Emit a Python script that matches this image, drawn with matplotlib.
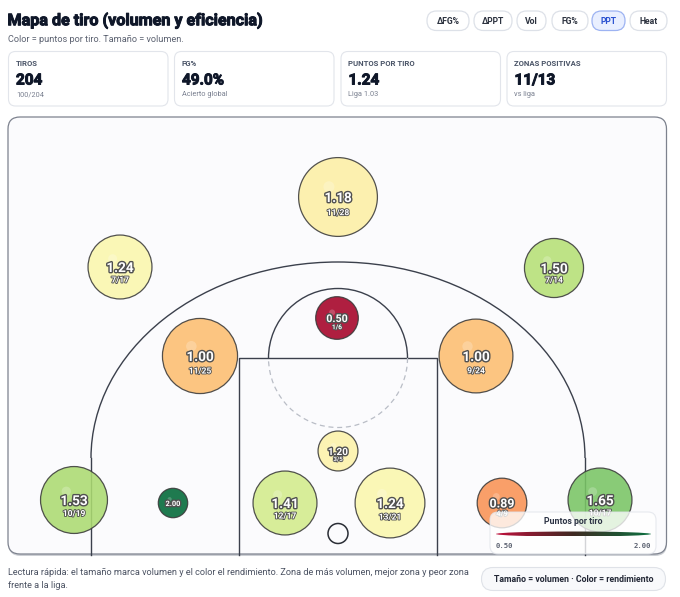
import numpy as np
import matplotlib
matplotlib.use("Agg")
import matplotlib.pyplot as plt
from matplotlib.patches import FancyBboxPatch, Circle, Arc, Ellipse
from matplotlib.colors import Normalize, LinearSegmentedColormap, ListedColormap, to_rgb
import matplotlib.patheffects as pe

plt.rcParams['font.family'] = ['Roboto', 'DejaVu Sans']

# ---- data ----
zone_x = [338, 120, 554, 337, 200, 476, 74, 173, 285, 338, 390, 502, 600]
zone_y = [197, 267, 268, 318, 356, 356, 500, 503, 503, 451, 503, 503, 500]
attempts = [28, 17, 14, 6, 25, 24, 19, 2, 17, 5, 21, 9, 17]
made = [11, 7, 7, 1, 11, 9, 10, 2, 12, 3, 13, 4, 10]
ppt = [1.18, 1.24, 1.50, 0.50, 1.00, 1.00, 1.53, 2.00, 1.41, 1.20, 1.24, 0.89, 1.65]

card_labels = ["TIROS", "FG%", "PUNTOS POR TIRO", "ZONAS POSITIVAS"]
card_values = ["204", "49.0%", "1.24", "11/13"]
card_subs = ["100/204", "Acierto global", "Liga 1.03", "vs liga"]

buttons = ["ΔFG%", "ΔPPT", "Vol", "FG%", "PPT", "Heat"]
active_button = "PPT"

ppt_min, ppt_max = 0.50, 2.00

LINE = '#3b404c'
NAVY = '#0f1729'

# RdYlGn with smooth (basis spline) interpolation between the brewer stops
brewer = ["#a50026", "#d73027", "#f46d43", "#fdae61", "#fee08b", "#ffffbf",
          "#d9ef8b", "#a6d96a", "#66bd63", "#1a9850", "#006837"]


def basis_cmap(hexes, n_out=256):
    v = np.array([to_rgb(h) for h in hexes])
    n = len(v) - 1
    out = []
    for t in np.linspace(0, 1, n_out):
        i = min(int(t * n), n - 1)
        v1, v2 = v[i], v[i + 1]
        v0 = v[i - 1] if i > 0 else 2 * v1 - v2
        v3 = v[i + 2] if i < n - 1 else 2 * v2 - v1
        s = (t - i / n) * n
        s2, s3 = s * s, s * s * s
        c = ((1 - 3 * s + 3 * s2 - s3) * v0 + (4 - 6 * s2 + 3 * s3) * v1
             + (1 + 3 * s + 3 * s2 - 3 * s3) * v2 + s3 * v3) / 6
        out.append(np.clip(c, 0, 1))
    return ListedColormap(out)


fig = plt.figure(figsize=(6.8, 5.97), dpi=100)
ax = fig.add_axes([0, 0, 1, 1])
ax.set_xlim(0, 680)
ax.set_ylim(597, 0)
ax.axis('off')


def rbox(x0, y0, w, h, r, fc, ec, lw=0.8, z=1, alpha=1.0):
    p = FancyBboxPatch((x0, y0), w, h, boxstyle=f"round,pad=0,rounding_size={r}",
                       fc=fc, ec=ec, lw=lw, zorder=z, alpha=alpha)
    ax.add_patch(p)
    return p


heavy = [pe.withStroke(linewidth=0.7, foreground=NAVY)]

# ---- header ----
ax.text(7.5, 20.5, "Mapa de tiro (volumen y eficiencia)", fontsize=11.6, fontweight='bold',
        color=NAVY, va='center', ha='left', path_effects=heavy)
ax.text(8, 39.5, "Color = puntos por tiro. Tamaño = volumen.", fontsize=6.6,
        color='#5b6170', va='center', ha='left')

bx = [427, 474, 517, 552, 592, 630]
bw = [42, 38, 29, 36, 33, 37]
for b, x0, w in zip(buttons, bx, bw):
    on = (b == active_button)
    rbox(x0, 11, w, 19.5, 9.5, '#e9efff' if on else 'white',
         '#9db3f2' if on else '#dde1e8', lw=0.9, z=2)
    ax.text(x0 + w / 2, 21, b, fontsize=6.2, fontweight='bold',
            color='#2b52d1' if on else '#2d3340', ha='center', va='center', zorder=3)

# ---- summary cards ----
card_x = [8.5, 174.5, 341, 507]
for cx0, lab, val, sub in zip(card_x, card_labels, card_values, card_subs):
    rbox(cx0, 51.5, 159.5, 54.5, 7, 'white', '#e2e5eb', lw=0.8, z=2)
    ax.text(cx0 + 7.5, 64, lab, fontsize=5.6, fontweight='bold', color='#4b5568',
            ha='left', va='center', zorder=3)
    ax.text(cx0 + 7.5, 80.5, val, fontsize=11, fontweight='bold', color=NAVY,
            ha='left', va='center', zorder=3, path_effects=heavy)
    ax.text(cx0 + 7.5, 95, sub, fontsize=5.3, color='#7a8090',
            ha='left', va='center', zorder=3)

# ---- court panel ----
rbox(8.5, 118.5, 658.5, 437.5, 12, '#9aa0aa', 'none', lw=0, z=1, alpha=0.5)
rbox(8, 117, 658.5, 437, 12, '#fbfbfd', '#7d828e', lw=0.9, z=1.2)

clw = 1.0
ax.plot([91, 91], [555, 458], color=LINE, lw=clw, zorder=2)
ax.plot([585, 585], [555, 458], color=LINE, lw=clw, zorder=2)
ax.add_patch(Arc((338, 458), 494, 392, theta1=180, theta2=360, color=LINE, lw=clw, zorder=2))
ax.plot([238.5, 238.5, 436.5, 436.5], [555, 358, 358, 555], color=LINE, lw=clw, zorder=2)
ax.add_patch(Arc((338, 358), 139, 139, theta1=180, theta2=360, color=LINE, lw=clw, zorder=2))
ax.add_patch(Arc((338, 358), 139, 139, theta1=0, theta2=180, color='#b9bdc6', lw=0.9,
                 ls=(0, (4, 3)), zorder=2))
ax.add_patch(Circle((338, 533.5), 10, fc='none', ec='#2a2e36', lw=1.1, zorder=2))

# ---- bubbles ----
cmap = basis_cmap(brewer)
norm = Normalize(ppt_min, ppt_max)
for x, y, a, m, v in zip(zone_x, zone_y, attempts, made, ppt):
    r = 5.7 + 6.37 * np.sqrt(a)
    ax.add_patch(Circle((x, y), r, fc=cmap(norm(v)), ec='#3a3a3a', lw=0.9,
                        alpha=0.88, zorder=4))
    ax.add_patch(Circle((x - 0.23 * r, y - 0.26 * r), 0.14 * r, fc='white', ec='none',
                        alpha=0.22, zorder=4.1))
    fs = min(9.8, r * 0.36)
    ax.text(x, y + 1, f"{v:.2f}", fontsize=fs, fontweight='bold', color='white',
            ha='center', va='center', zorder=5,
            path_effects=[pe.withStroke(linewidth=2.0, foreground='#505050')])
    if r > 17:
        ax.text(x, y + 1.5 + 0.36 * r, f"{m}/{a}", fontsize=fs * 0.62, fontweight='bold',
                color='white', ha='center', va='center', zorder=5,
                path_effects=[pe.withStroke(linewidth=1.3, foreground='#505050')])

# ---- colour legend ----
rbox(490, 512, 166, 42, 8, 'white', '#e1e4ea', lw=0.8, z=6, alpha=0.78)
ax.text(573, 521.5, "Puntos por tiro", fontsize=6.3, fontweight='bold', color='#2d3445',
        ha='center', va='center', zorder=7)
leg_cmap = LinearSegmentedColormap.from_list('leg', ['#c0103c', '#3f2a22', '#0c7040'])
grad = np.linspace(ppt_min, ppt_max, 256).reshape(1, -1)
im = ax.imshow(grad, cmap=leg_cmap, norm=norm, extent=(496, 651, 536.5, 531.5),
               aspect='auto', zorder=7)
im.set_clip_path(Ellipse((573.5, 534), 155, 5, transform=ax.transData))
ax.set_xlim(0, 680)
ax.set_ylim(597, 0)
ax.text(496, 546, f"{ppt_min:.2f}", fontsize=5.2, fontweight='bold', color='#5b6170',
        family='DejaVu Sans Mono', ha='left', va='center', zorder=7)
ax.text(651, 546, f"{ppt_max:.2f}", fontsize=5.2, fontweight='bold', color='#5b6170',
        family='DejaVu Sans Mono', ha='right', va='center', zorder=7)

# ---- footer ----
ax.text(8, 572, "Lectura rápida: el tamaño marca volumen y el color el rendimiento. "
        "Zona de más volumen, mejor zona y peor zona", fontsize=6.55, color='#4b5262',
        ha='left', va='center')
ax.text(8, 586, "frente a la liga.", fontsize=6.55, color='#4b5262', ha='left', va='center')
rbox(481.5, 567.5, 184, 23, 11.5, '#f8f9fb', '#dfe2e8', lw=0.8, z=2)
ax.text(573.5, 579, "Tamaño = volumen · Color = rendimiento", fontsize=6.3,
        fontweight='bold', color='#232836', ha='center', va='center', zorder=3)

fig.savefig("out.png", dpi=100)
